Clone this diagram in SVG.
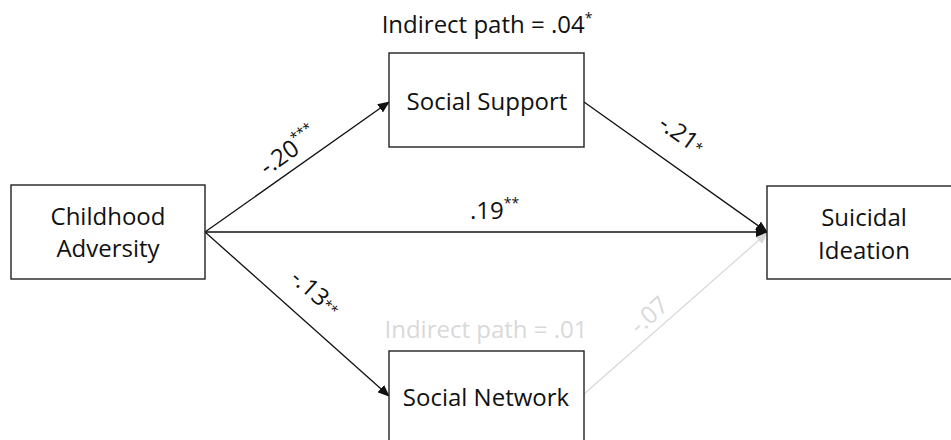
<svg xmlns="http://www.w3.org/2000/svg" width="951" height="440" viewBox="0 0 951 440">
<style>
.box{fill:#fff;stroke:#222;stroke-width:1.4}
.t{font-family:"Open Sans","Noto Sans",sans-serif;font-size:24px;fill:#111;text-anchor:middle}
.lbl{font-family:"Open Sans","Noto Sans",sans-serif;font-size:24px;fill:#111}
.sup{font-size:14px}
.dark{stroke:#111;stroke-width:1.3;fill:none}
.light{stroke:#d9d9d9;stroke-width:1.3;fill:none}
.grey{fill:#d9d9d9}
</style>
<defs>
<marker id="ah" markerWidth="12" markerHeight="10" refX="11" refY="5" orient="auto" markerUnits="userSpaceOnUse">
<path d="M0,0 L12,5 L0,10 Z" fill="#111"/>
</marker>
<marker id="ahl" markerWidth="12" markerHeight="10" refX="11" refY="5" orient="auto" markerUnits="userSpaceOnUse">
<path d="M0,0 L12,5 L0,10 Z" fill="#d9d9d9"/>
</marker>
</defs>
<rect width="951" height="440" fill="#fff"/>
<g id="connectors">
<line class="light" x1="584" y1="394" x2="767" y2="233" marker-end="url(#ahl)"/>
<line class="dark" x1="205" y1="232" x2="389" y2="102" marker-end="url(#ah)"/>
<line class="dark" x1="205" y1="232" x2="767" y2="232" marker-end="url(#ah)"/>
<line class="dark" x1="584" y1="102" x2="767" y2="232" marker-end="url(#ah)"/>
<line class="dark" x1="205" y1="232" x2="389" y2="396" marker-end="url(#ah)"/>
<text class="lbl" transform="translate(267,176) rotate(-35.3)">-.20<tspan class="sup" dy="-11">***</tspan></text>
<text class="lbl" x="470" y="219">.19<tspan class="sup" dy="-11">**</tspan></text>
<text class="lbl" transform="translate(657,127) rotate(35.5)">-.21<tspan class="sup" dy="-2">*</tspan></text>
<text class="lbl" transform="translate(289,280) rotate(41.7)">-.13<tspan class="sup" dy="-2">**</tspan></text>
<text class="lbl grey" transform="translate(639,335) rotate(-41.5)">-.07</text>
</g>
<g id="childhood-adversity">
<rect class="box" x="11" y="185" width="194" height="94"/>
<text class="t" x="108" y="225">Childhood</text>
<text class="t" x="108" y="257">Adversity</text>
</g>
<g id="social-support">
<text class="t" x="487" y="33">Indirect path = .04<tspan class="sup" dy="-10">*</tspan></text>
<rect class="box" x="389" y="53" width="195" height="94"/>
<text class="t" x="487" y="110">Social Support</text>
</g>
<g id="social-network">
<text class="t grey" x="486" y="338">Indirect path = .01</text>
<rect class="box" x="389" y="351" width="195" height="100"/>
<text class="t" x="486" y="406">Social Network</text>
</g>
<g id="suicidal-ideation">
<rect class="box" x="767" y="186" width="195" height="93"/>
<text class="t" x="864" y="226">Suicidal</text>
<text class="t" x="864" y="259">Ideation</text>
</g>
</svg>
